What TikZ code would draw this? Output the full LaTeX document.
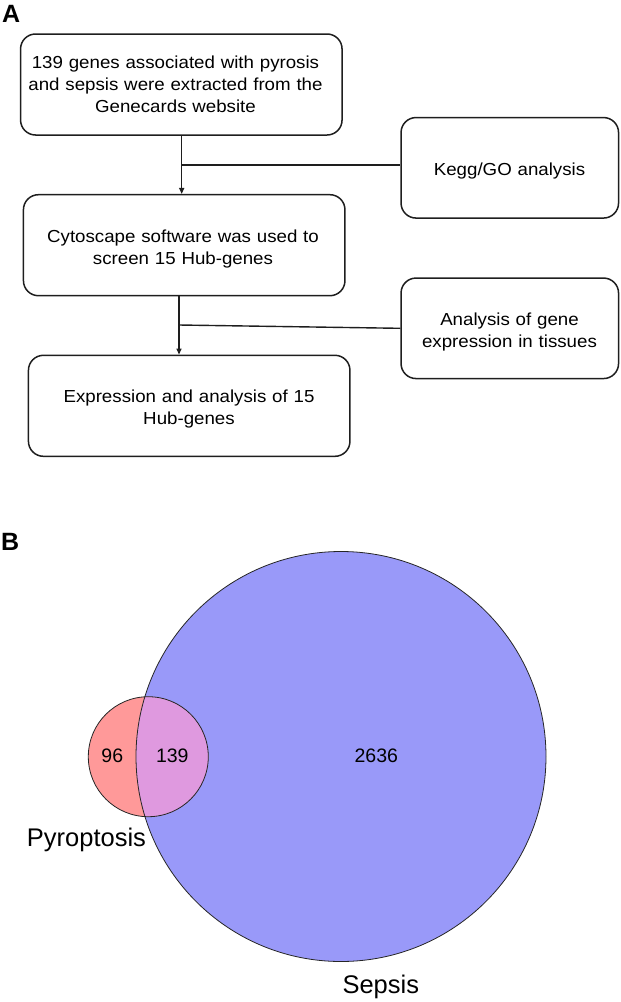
\documentclass[tikz,border=0pt]{standalone}
\usepackage{fontspec}
\setmainfont{Liberation Sans}
\newfontfamily\boxfont[FakeStretch=1.075]{Liberation Sans}
\usetikzlibrary{arrows.meta}
\definecolor{sepsisblue}{HTML}{9999F9}
\definecolor{pyrored}{HTML}{FF9999}
\definecolor{overlapc}{HTML}{DF99DF}
\definecolor{inkc}{HTML}{1E1E1E}
\tikzset{
  flowbox/.style={draw=inkc, line width=1.5pt, rounded corners=15pt, inner sep=0pt},
  bigbox/.style={flowbox, minimum width=321.5pt, minimum height=101pt},
  sidebox/.style={flowbox, minimum width=217.5pt, minimum height=100.5pt},
  boxtext/.style={font=\boxfont\fontsize{17.4}{22}\selectfont, align=center,
    text width=310pt, inner sep=0pt, anchor=base},
  sidetext/.style={boxtext, text width=210pt},
  conn/.style={draw=inkc, line width=1.4pt},
  arr/.style={conn, -{Triangle[length=6pt,width=5pt]}},
  panel/.style={font=\fontsize{25}{30}\selectfont\bfseries, anchor=base west, inner sep=0pt},
  vennnum/.style={font=\fontsize{19.5}{23}\selectfont, inner sep=0pt},
  vennlab/.style={font=\fontsize{25.5}{30}\selectfont, anchor=base west, inner sep=0pt},
  vennline/.style={draw=black!85, line width=0.8pt}
}
\begin{document}
\begin{tikzpicture}[x=1pt, y=-1pt]
\useasboundingbox (0,0) rectangle (621,1002);
% Panel A
\node[panel] (labA) at (2,22.5) {A};
\node[bigbox] (b1) at (181.3,84.5) {};
\node[boxtext] (b1t) at (175.5,68) {139 genes associated with pyrosis\\and sepsis were extracted from the\\Genecards website};
\node[sidebox] (kegg) at (509.8,167.8) {};
\node[sidetext] (keggt) at (509.5,175) {Kegg/GO analysis};
\node[bigbox] (b2) at (184.2,245.2) {};
\node[boxtext] (b2t) at (183,242.3) {Cytoscape software was used to\\screen 15 Hub-genes};
\node[sidebox] (anal) at (509.8,328.3) {};
\node[sidetext] (analt) at (509.5,325) {Analysis of gene\\expression in tissues};
\node[bigbox] (b3) at (189.2,405.8) {};
\node[boxtext] (b3t) at (189,402.3) {Expression and analysis of 15\\Hub-genes};
\coordinate (j1) at (181.7,165);
\coordinate (j2) at (179,325);
\draw[arr] (b1.south -| j1) -- (b2.north -| j1);
\draw[conn] (j1) -- (kegg.west |- j1);
\draw[arr] (b2.south -| j2) -- (b3.north -| j2);
\draw[conn] (j2) -- (anal.west);
% Panel B
\node[panel] (labB) at (1,550) {B};
\node[circle, minimum size=410pt, inner sep=0pt] (sep) at (341,756.5) {};
\node[circle, minimum size=120pt, inner sep=0pt] (pyr) at (148.3,756.7) {};
\fill[sepsisblue] (sep.center) circle (205);
\fill[pyrored] (pyr.center) circle (60);
\begin{scope}
  \clip (sep.center) circle (205);
  \fill[overlapc] (pyr.center) circle (60);
\end{scope}
\draw[vennline] (sep.center) circle (205);
\draw[vennline] (pyr.center) circle (60);
\node[vennnum] (n96) at (112.3,755.7) {96};
\node[vennnum] (n139) at (172.3,755.7) {139};
\node[vennnum] (n2636) at (376.3,755.5) {2636};
\node[vennlab] (lpyr) at (26.7,846.7) {Pyroptosis};
\node[vennlab] (lsep) at (342.3,993.7) {Sepsis};
\end{tikzpicture}
\end{document}
